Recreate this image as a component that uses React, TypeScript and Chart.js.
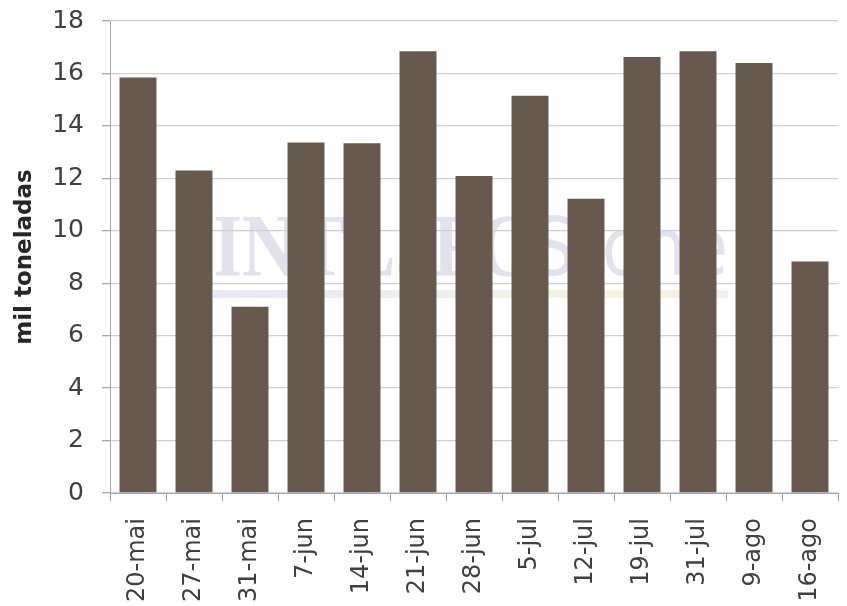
import React, { useEffect, useRef } from "react";
import { Chart, registerables } from "chart.js";

Chart.register(...registerables);

const categories = ["20-mai", "27-mai", "31-mai", "7-jun", "14-jun", "21-jun", "28-jun", "5-jul", "12-jul", "19-jul", "31-jul", "9-ago", "16-ago"];
const values = [15.85, 12.3, 7.1, 13.37, 13.34, 16.85, 12.09, 15.15, 11.22, 16.63, 16.85, 16.4, 8.83];
const yTitle = "mil toneladas";
const watermarkSerif = "INTL. FC";
const watermarkSans = "Stone";

const watermarkPlugin = {
  id: "watermark",
  beforeDraw(chart: any) {
    const ctx = chart.ctx;
    ctx.save();
    ctx.fillStyle = "rgb(226,226,236)";
    ctx.textBaseline = "alphabetic";
    ctx.textAlign = "left";
    const serifFont = "bold 88px 'Liberation Serif', serif";
    const sansFont = "80px 'DejaVu Sans', sans-serif";
    ctx.font = serifFont;
    const w1 = ctx.measureText(watermarkSerif).width;
    ctx.font = sansFont;
    const w2 = ctx.measureText(watermarkSans).width;
    const sx = 515 / (w1 + w2);
    ctx.translate(213, 275);
    ctx.scale(sx, 1);
    ctx.font = serifFont;
    ctx.fillText(watermarkSerif, 0, 0);
    ctx.font = sansFont;
    ctx.fillText(watermarkSans, w1, 0);
    ctx.setTransform(1, 0, 0, 1, 0, 0);
    const g = ctx.createLinearGradient(213, 0, 728, 0);
    g.addColorStop(0, "rgba(215,220,235,0.6)");
    g.addColorStop(0.35, "rgba(225,225,225,0.6)");
    g.addColorStop(0.6, "rgba(225,235,215,0.6)");
    g.addColorStop(0.8, "rgba(244,234,214,0.6)");
    g.addColorStop(1, "rgba(242,226,220,0.6)");
    ctx.fillStyle = g;
    ctx.fillRect(213, 290, 515, 8);
    ctx.restore();
  },
};

export default function App() {
  const ref = useRef<HTMLCanvasElement | null>(null);
  useEffect(() => {
    if (!ref.current) return;
    const chart = new Chart(ref.current, {
      type: "bar",
      data: {
        labels: categories,
        datasets: [
          {
            data: values,
            backgroundColor: "#66594D",
            borderWidth: 0,
            barPercentage: 0.66,
            categoryPercentage: 1,
          },
        ],
      },
      options: {
        responsive: false,
        animation: false,
        layout: { padding: { top: 21, right: 9, left: 0, bottom: 0 } },
        plugins: { legend: { display: false }, tooltip: { enabled: false } },
        scales: {
          x: {
            grid: {
              display: true,
              drawOnChartArea: false,
              drawTicks: true,
              tickLength: 8,
              tickColor: "#a6a6a6",
              offset: true,
            },
            border: { display: true, color: "#a6a6a6", width: 1 },
            ticks: {
              minRotation: 90,
              maxRotation: 90,
              padding: 17,
              color: "#404040",
              font: { family: "'DejaVu Sans', sans-serif", size: 24 },
              autoSkip: false,
            },
            afterFit(scale: any) {
              scale.height = 113;
              scale.paddingTop = 0;
              scale.paddingBottom = 0;
              scale.paddingLeft = 0;
              scale.paddingRight = 0;
            },
          },
          y: {
            min: 0,
            max: 18,
            ticks: {
              stepSize: 2,
              padding: 18,
              color: "#404040",
              font: { family: "'DejaVu Sans', sans-serif", size: 25 },
            },
            grid: {
              color: "#d0d0d0",
              lineWidth: 1.3,
              tickLength: 8,
              tickColor: "#a6a6a6",
            },
            border: { display: true, color: "#a6a6a6", width: 1 },
            title: {
              display: true,
              text: yTitle,
              color: "#262626",
              font: { family: "'DejaVu Sans', sans-serif", size: 23, weight: "bold" },
              padding: { top: 11, bottom: 0 },
            },
            afterFit(scale: any) {
              scale.width = 110;
              scale.paddingTop = 0;
              scale.paddingBottom = 0;
            },
          },
        },
      },
      plugins: [watermarkPlugin],
    });
    return () => chart.destroy();
  }, []);
  return (
    <div style={{ position: "absolute", left: 0, top: 0, width: 847, height: 606, background: "#fff" }}>
      <canvas ref={ref} width={847} height={606} />
    </div>
  );
}
